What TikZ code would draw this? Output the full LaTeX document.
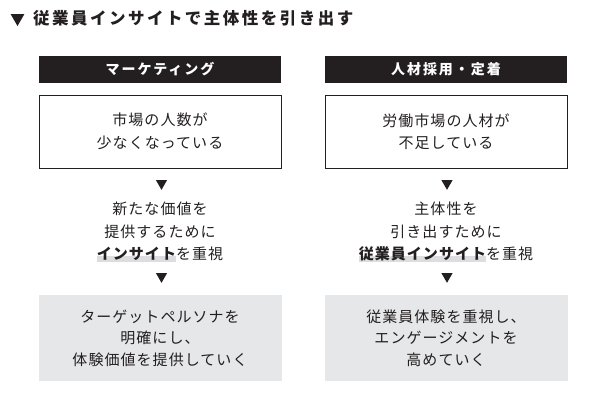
\documentclass[tikz,border=0pt]{standalone}
\usepackage{fontspec}
\usepackage{xcolor}
\usetikzlibrary{shapes.geometric}
\setmainfont{Noto Sans CJK JP}
\newfontfamily\bodyfont{Noto Sans CJK JP}[LetterSpace=7]
\newfontfamily\headfont{Noto Sans CJK JP}[LetterSpace=14]
\newfontfamily\titlefont{Noto Sans CJK JP}[LetterSpace=15]
\definecolor{ink}{HTML}{231F20}
\definecolor{panel}{HTML}{E6E7E8}
\definecolor{hilite}{HTML}{DCDDDE}
\newcommand{\hlword}[1]{\setbox0=\hbox{\bfseries #1}\rlap{\textcolor{hilite}{\rule[-2.5pt]{\wd0}{6pt}}}\box0}
\tikzset{
  headbar/.style={fill=ink, text=white, minimum width=242pt, minimum height=27pt, inner sep=0pt,
    font=\headfont\bfseries\fontsize{14}{16}\selectfont},
  probbox/.style={draw=ink, line width=1pt, minimum width=242pt, minimum height=73pt, align=center,
    text=ink, font=\bodyfont\fontsize{15}{22.5}\selectfont},
  midtext/.style={align=center, text=ink, inner sep=0pt, font=\bodyfont\fontsize{15}{22.5}\selectfont},
  goalbox/.style={fill=panel, minimum width=243pt, minimum height=86pt, align=center,
    text=ink, font=\bodyfont\fontsize{15}{21.5}\selectfont},
  tri/.style={regular polygon, regular polygon sides=3, shape border rotate=180, fill=ink,
    minimum size=13pt, inner sep=0pt}
}
\begin{document}
\begin{tikzpicture}[x=1pt,y=-1pt]
\useasboundingbox (0,0) rectangle (591,400);
% title
\node[tri, minimum size=16pt] (titleMark) at (17.5,18) {};
\node[anchor=west, inner sep=0pt, text=ink, font=\titlefont\bfseries\fontsize{16.5}{18}\selectfont] (titleText) at (33,18.5) {従業員インサイトで主体性を引き出す};
% marketing
\node[headbar] (mktHead) at (160,69.5) {マーケティング};
\node[probbox] (mktProb) at (160,131.5) {市場の人数が\\少なくなっている};
\node[tri] (mktArrA) at (161.5,183.3) {};
\node[midtext] (mktMid) at (160,232) {新たな価値を\\提供するために\\\hlword{インサイト}を重視};
\node[tri] (mktArrB) at (161.5,276.3) {};
\node[goalbox] (mktGoal) at (160,338) {ターゲットペルソナを\\明確にし、\\体験価値を提供していく};
% recruiting
\node[headbar] (hrHead) at (446,69.5) {人材採用・定着};
\node[probbox] (hrProb) at (446,131.5) {労働市場の人材が\\不足している};
\node[tri] (hrArrA) at (447,183.3) {};
\node[midtext] (hrMid) at (446,232) {主体性を\\引き出すために\\\hlword{従業員インサイト}を重視};
\node[tri] (hrArrB) at (447,276.3) {};
\node[goalbox] (hrGoal) at (446,338) {従業員体験を重視し、\\エンゲージメントを\\高めていく};
\end{tikzpicture}
\end{document}
